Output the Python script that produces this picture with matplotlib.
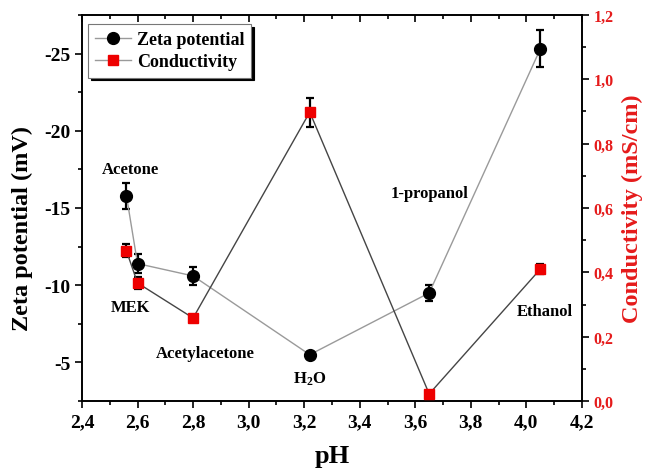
import matplotlib
matplotlib.use("Agg")
import matplotlib.pyplot as plt
from matplotlib.ticker import MultipleLocator, FuncFormatter
from matplotlib.lines import Line2D

# ---- data ----
ph = [2.56, 2.60, 2.80, 3.22, 3.65, 4.05]
zeta = [-15.8, -11.4, -10.6, -5.5, -9.5, -25.3]
zeta_err = [0.85, 0.6, 0.6, 0.2, 0.5, 1.2]
cond = [0.467, 0.367, 0.258, 0.898, 0.022, 0.41]
cond_err = [0.02, 0.02, 0.01, 0.045, 0.01, 0.015]
labels = ["Acetone", "MEK", "Acetylacetone", "H$_2$O", "1-propanol", "Ethanol"]
label_pos = [(2.573, -17.5), (2.575, -8.6), (2.843, -5.6), (3.22, -4.0), (3.653, -15.95), (4.067, -8.3)]

plt.rcParams['font.family'] = ['Liberation Serif', 'DejaVu Serif']
plt.rcParams['font.weight'] = 'bold'
plt.rcParams['mathtext.fontset'] = 'custom'
plt.rcParams['mathtext.rm'] = 'Liberation Serif:bold'
plt.rcParams['mathtext.it'] = 'Liberation Serif:bold'
plt.rcParams['mathtext.bf'] = 'Liberation Serif:bold'

RED = '#e51b1b'

fig = plt.figure(figsize=(6.47, 4.77), dpi=100)
ax = fig.add_axes([0.1267, 0.1572, 0.7728, 0.8093])
ax2 = ax.twinx()

comma = FuncFormatter(lambda v, p: ("%.1f" % v).replace(".", ","))
intfmt = FuncFormatter(lambda v, p: "%d" % round(v))

# zeta series
lz = ax.errorbar(ph, zeta, yerr=zeta_err, fmt='-o', color='#9a9a9a', ecolor='black',
                 elinewidth=1.6, capsize=3, capthick=1.6, markersize=8.5,
                 mfc='black', mec='black', lw=1.0, zorder=3)

# conductivity series
lc = ax2.errorbar(ph, cond, yerr=cond_err, fmt='-s', color='#454545', ecolor='black',
                  elinewidth=1.6, capsize=3, capthick=1.6, markersize=7.5,
                  mfc='#ee0000', mec='#ee0000', lw=1.0, zorder=3)

ax.set_xlim(2.4, 4.2)
ax.set_ylim(-2.5, -27.5)
ax2.set_ylim(0.0, 1.2)

ax.xaxis.set_major_locator(MultipleLocator(0.2))
ax.xaxis.set_minor_locator(MultipleLocator(0.1))
ax.xaxis.set_major_formatter(comma)
ax.yaxis.set_major_locator(MultipleLocator(5))
ax.yaxis.set_minor_locator(MultipleLocator(2.5))
ax.yaxis.set_major_formatter(intfmt)
ax2.yaxis.set_major_locator(MultipleLocator(0.2))
ax2.yaxis.set_minor_locator(MultipleLocator(0.1))
ax2.yaxis.set_major_formatter(comma)

ax.tick_params(axis='x', which='both', direction='out', top=True, labelsize=14, width=1.2)
ax.tick_params(axis='x', which='major', length=5)
ax.tick_params(axis='x', which='minor', length=3)
ax.tick_params(axis='y', which='major', direction='out', length=5, width=1.2, labelsize=14)
ax.tick_params(axis='y', which='minor', direction='out', length=3, width=1.2)
ax2.tick_params(axis='y', which='major', direction='out', length=5, width=1.2,
                labelsize=11.5, labelcolor=RED)
ax2.tick_params(axis='y', which='minor', direction='out', length=3, width=1.2)
for t in ax.xaxis.get_major_ticks() + ax.xaxis.get_minor_ticks():
    t.tick2line.set_marker(3)
for sp in list(ax.spines.values()) + list(ax2.spines.values()):
    sp.set_linewidth(1.2)

ax.set_xlabel("pH", fontsize=19, fontweight='bold', labelpad=10)
ax.set_ylabel("Zeta potential (mV)", fontsize=17.5, fontweight='bold')
ax.yaxis.set_label_coords(-0.098, 0.45)
ax2.set_ylabel("Conductivity (mS/cm)", fontsize=17.5, fontweight='bold', color=RED, labelpad=6)

for lab, (xx, yy) in zip(labels, label_pos):
    ax.text(xx, yy, lab, fontsize=12, fontweight='bold', ha='center', va='center', zorder=5)

h1 = Line2D([], [], color='#9a9a9a', marker='o', mfc='black', mec='black', markersize=8.5, lw=1.0)
h2 = Line2D([], [], color='#9a9a9a', marker='s', mfc='#ee0000', mec='#ee0000', markersize=7.5, lw=1.0)
leg = ax2.legend([h1, h2], ["Zeta potential", "Conductivity"], loc='upper left',
                 bbox_to_anchor=(0.012, 0.977), borderaxespad=0, fancybox=False, framealpha=1,
                 edgecolor='#777777', shadow={'color': 'black', 'alpha': 1},
                 prop={'size': 13, 'weight': 'bold'}, handlelength=2.0,
                 handletextpad=0.3, borderpad=0.4, labelspacing=0.3)
leg.get_frame().set_linewidth(0.8)

fig.savefig("out.png", dpi=100)
